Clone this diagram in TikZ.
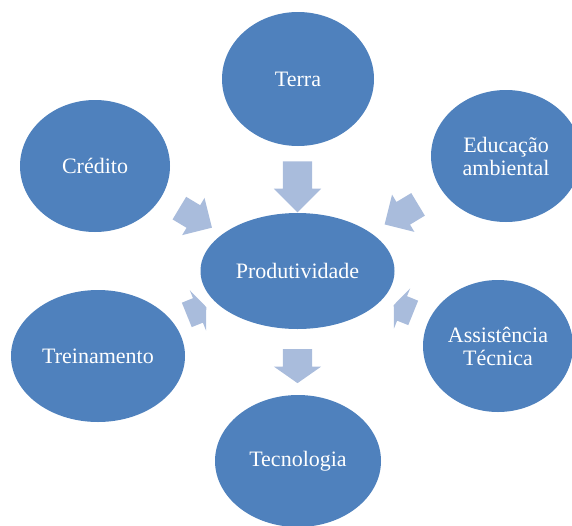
\documentclass[tikz,border=0pt]{standalone}
\usepackage{fontspec}
\setmainfont{Liberation Serif}
\usetikzlibrary{shapes.geometric,shapes.arrows}
\definecolor{bolhaazul}{HTML}{4F81BD}
\definecolor{setaazul}{HTML}{A9BCDC}
\begin{document}
\begin{tikzpicture}[x=1pt, y=-1pt,
    bolha/.style={ellipse, fill=bolhaazul, inner sep=0pt, text=white, align=center,
        font=\fontsize{22}{23}\selectfont},
    seta/.style={single arrow, fill=setaazul, inner xsep=0pt, inner ysep=13pt,
        minimum width=43pt, single arrow head extend=8.5pt, single arrow tip angle=90}]
    \useasboundingbox (0,0) rectangle (572,525);
    \clip (0,0) rectangle (572,525);
    % the six factors around the centre
    \node[bolha, minimum width=194pt, minimum height=116pt] (prod) at (297.5,271) {Produtividade};
    \node[bolha, minimum width=152pt, minimum height=134pt] (terra) at (298,79) {Terra};
    \node[bolha, minimum width=150pt, minimum height=132pt] (credito) at (95,166) {Crédito};
    \node[bolha, minimum width=150pt, minimum height=132pt] (educacao) at (506,156) {Educação\\ambiental};
    \node[bolha, minimum width=174pt, minimum height=132pt] (treinamento) at (98,356) {Treinamento};
    \node[bolha, minimum width=150pt, minimum height=132pt] (assistencia) at (498,346) {Assistência\\Técnica};
    \node[bolha, minimum width=166pt, minimum height=132pt] (tecnologia) at (298,461) {Tecnologia};
    % block arrows
    \node[seta, rotate=-90, minimum height=51pt, minimum width=47pt, inner ysep=14.5pt,
        single arrow head extend=9pt] (sterra) at (297.5,179.5) {};
    \node[seta, rotate=-90, minimum height=34pt, minimum width=47pt, inner ysep=14.5pt,
        single arrow head extend=9pt, single arrow tip angle=110] (stecnologia) at (297.5,361) {};
    \node[seta, rotate=-31, minimum height=38pt] (scredito) at (190,214.5) {};
    \node[seta, rotate=-149, minimum height=39pt] (seducacao) at (407,211) {};
    \node[seta, rotate=22, minimum height=21pt, single arrow tip angle=135] (streinamento) at (194,312) {};
    \node[seta, rotate=158, minimum height=21pt, single arrow tip angle=135] (sassistencia) at (406,310) {};
\end{tikzpicture}
\end{document}
